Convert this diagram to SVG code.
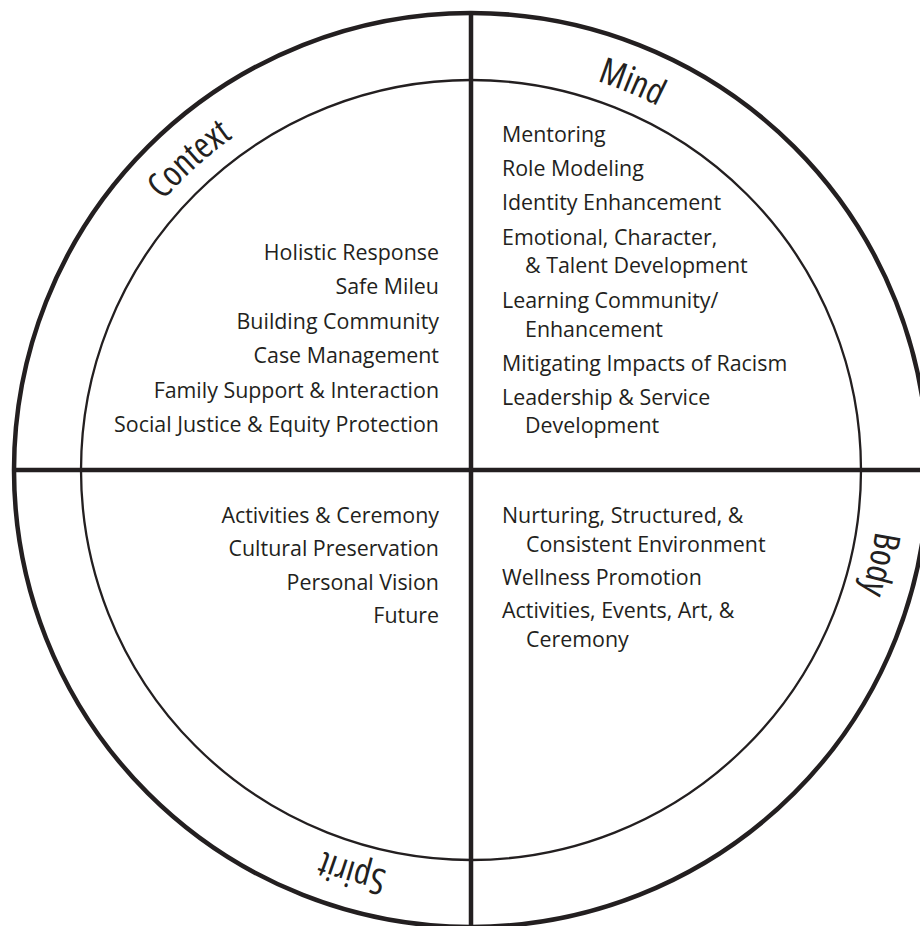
<svg xmlns="http://www.w3.org/2000/svg" xmlns:xlink="http://www.w3.org/1999/xlink" width="920" height="926" viewBox="0 0 920 926">
<style>
.ring{fill:none;stroke:#231f20}
.outer{stroke-width:4.5}
.inner{stroke-width:2.3}
.axis{stroke:#231f20;stroke-width:4.5}
.item{font-family:"Open Sans","Noto Sans","Liberation Sans",sans-serif;font-size:21.4px;fill:#231f20}
.r{text-anchor:end}
.head{font-family:"Open Sans","Noto Sans","Liberation Sans",sans-serif;font-stretch:condensed;font-size:36px;fill:#231f20;text-anchor:middle}
</style>
<defs>
<path id="arc" d="M471,61 A409,409 0 1 1 471,879 A409,409 0 1 1 471,61"/>
</defs>
<rect width="920" height="926" fill="#fff"/>
<g id="frame">
<circle class="ring outer" cx="471" cy="470" r="457"/>
<circle class="ring inner" cx="471" cy="470" r="390"/>
</g>
<g id="connectors">
<line class="axis" x1="14" y1="470" x2="920" y2="470"/>
<line class="axis" x1="471" y1="13" x2="471" y2="926"/>
</g>
<g id="mind">
<text class="head"><textPath xlink:href="#arc" href="#arc" startOffset="161">Mind</textPath></text>
<text class="item" x="502" y="142">Mentoring</text>
<text class="item" x="502" y="176">Role Modeling</text>
<text class="item" x="502" y="210">Identity Enhancement</text>
<text class="item" x="502" y="245">Emotional, Character,</text>
<text class="item" x="525" y="273">&amp; Talent Development</text>
<text class="item" x="502" y="308">Learning Community/</text>
<text class="item" x="525" y="337">Enhancement</text>
<text class="item" x="502" y="371">Mitigating Impacts of Racism</text>
<text class="item" x="502" y="405">Leadership &amp; Service</text>
<text class="item" x="525" y="433">Development</text>
</g>
<g id="body">
<text class="head"><textPath xlink:href="#arc" href="#arc" startOffset="735">Body</textPath></text>
<text class="item" x="502" y="523">Nurturing, Structured, &amp;</text>
<text class="item" x="526" y="552">Consistent Environment</text>
<text class="item" x="502" y="585">Wellness Promotion</text>
<text class="item" x="502" y="618">Activities, Events, Art, &amp;</text>
<text class="item" x="526" y="647">Ceremony</text>
</g>
<g id="spirit">
<text class="head"><textPath xlink:href="#arc" href="#arc" startOffset="1402">Spirit</textPath></text>
<text class="item r" x="439" y="523">Activities &amp; Ceremony</text>
<text class="item r" x="439" y="556">Cultural Preservation</text>
<text class="item r" x="439" y="590">Personal Vision</text>
<text class="item r" x="439" y="623">Future</text>
</g>
<g id="context">
<text class="head"><textPath xlink:href="#arc" href="#arc" startOffset="2268">Context</textPath></text>
<text class="item r" x="439" y="260">Holistic Response</text>
<text class="item r" x="439" y="294">Safe Mileu</text>
<text class="item r" x="439" y="329">Building Community</text>
<text class="item r" x="439" y="363">Case Management</text>
<text class="item r" x="439" y="398">Family Support &amp; Interaction</text>
<text class="item r" x="439" y="432">Social Justice &amp; Equity Protection</text>
</g>
</svg>
